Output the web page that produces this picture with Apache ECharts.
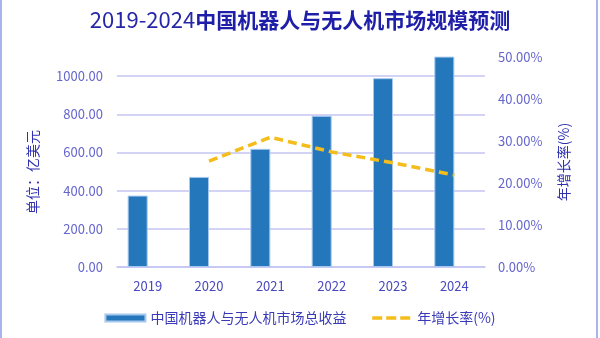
<!DOCTYPE html>
<html>
<head>
<meta charset="utf-8">
<script src="https://cdn.jsdelivr.net/npm/echarts@6/dist/echarts.min.js"></script>
<style>html,body{margin:0;padding:0;background:#fff;}#c{width:600px;height:338px;}</style>
</head>
<body>
<div id="c"></div>
<script>
var titleYears = '2019-2024';
var titleMain = '中国机器人与无人机市场规模预测';
var years = ['2019', '2020', '2021', '2022', '2023', '2024'];
var revenue = [374, 472, 619, 792, 989, 1102];
var growth = [null, 0.252, 0.309, 0.274, 0.248, 0.219];
var revenueName = '中国机器人与无人机市场总收益';
var growthName = '年增长率(%)';
var leftAxisName = '单位：亿美元';

var FONT = '"Noto Sans CJK SC", "Noto Sans", sans-serif';
var chart = echarts.init(document.getElementById('c'), null, {renderer: 'canvas'});
chart.setOption({
  backgroundColor: '#ffffff',
  animation: false,
  textStyle: {fontFamily: FONT},
  title: {
    text: '{d|' + titleYears + '}{c|' + titleMain + '}',
    left: 'center',
    top: 4,
    textStyle: {
      fontFamily: FONT,
      rich: {
        d: {color: '#2626A8', fontSize: 22, fontWeight: 'normal', fontFamily: FONT},
        c: {color: '#1E1EA8', fontSize: 21, fontWeight: 'bold', fontFamily: FONT}
      }
    }
  },
  graphic: [
    {type: 'rect', shape: {x: 0, y: 0, width: 2, height: 338}, style: {fill: '#A9B3F0'}},
    {type: 'rect', shape: {x: 596, y: 0, width: 2, height: 338}, style: {fill: '#A9B3F0'}}
  ],
  legend: {
    bottom: 8,
    left: 'center',
    itemGap: 24,
    textStyle: {color: '#3A3AB8', fontSize: 14, fontFamily: FONT},
    data: [
      {name: revenueName, icon: 'rect', itemWidth: 37, itemHeight: 7},
      {name: growthName,
       itemStyle: {color: 'transparent', borderColor: 'transparent', borderWidth: 0, opacity: 0},
       lineStyle: {color: '#F5BD1C', width: 3.5, type: [10, 4], opacity: 1}}
    ],
    itemWidth: 40,
    itemHeight: 7
  },
  grid: {left: 117, right: 115, top: 57, bottom: 71, containLabel: false},
  xAxis: {
    type: 'category',
    data: years,
    axisLine: {lineStyle: {color: '#C5C5F3', width: 1.5}},
    axisTick: {show: false},
    axisLabel: {color: '#4848C0', fontSize: 13, margin: 13, fontFamily: FONT}
  },
  yAxis: [
    {
      type: 'value',
      min: 0, max: 1100, interval: 200,
      name: leftAxisName,
      nameLocation: 'middle',
      nameGap: 77,
      nameRotate: 90,
      nameTextStyle: {color: '#3030B0', fontSize: 14, padding: [0, 20, 0, 0], fontFamily: FONT},
      axisLine: {show: false},
      axisTick: {show: false},
      axisLabel: {color: '#6565CF', fontSize: 13, margin: 14, showMaxLabel: false,
        formatter: function (v) { return v.toFixed(2); }, fontFamily: FONT},
      splitLine: {show: true, showMaxLine: false, lineStyle: {color: '#C5C5F3', width: 1.5}}
    },
    {
      type: 'value',
      min: 0, max: 0.5, interval: 0.1,
      name: growthName,
      nameLocation: 'middle',
      nameGap: 72,
      nameRotate: 90,
      nameTextStyle: {color: '#3030B0', fontSize: 14, fontFamily: FONT},
      axisLine: {show: false},
      axisTick: {show: false},
      splitLine: {show: false},
      axisLabel: {color: '#6565CF', fontSize: 13, margin: 13,
        formatter: function (v) { return (v * 100).toFixed(2) + '%'; }, fontFamily: FONT}
    }
  ],
  series: [
    {
      name: revenueName,
      type: 'bar',
      data: revenue,
      barWidth: 20,
      barGap: '0%',
      itemStyle: {color: '#2377BA', borderColor: '#A7C8EE', borderWidth: 1}
    },
    {
      name: '_spacer',
      type: 'bar',
      data: years.map(function () { return null; }),
      barWidth: 20,
      barGap: '0%',
      silent: true
    },
    {
      name: growthName,
      type: 'line',
      yAxisIndex: 1,
      data: growth,
      symbol: 'none',
      showSymbol: false,
      itemStyle: {color: '#F5BD1C'},
      lineStyle: {color: '#F5BD1C', width: 3.5, type: [9, 5]}
    }
  ]
});
</script>
</body>
</html>
